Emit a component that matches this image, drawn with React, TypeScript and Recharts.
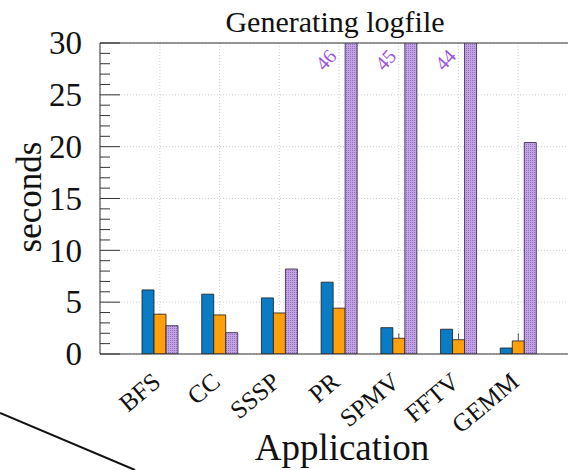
import { BarChart, Bar, XAxis, YAxis, CartesianGrid, ErrorBar, LabelList, ReferenceLine } from 'recharts';

const categories = ['BFS', 'CC', 'SSSP', 'PR', 'SPMV', 'FFTV', 'GEMM'];
const blueValues = [6.18, 5.77, 5.41, 6.93, 2.54, 2.39, 0.58];
const orangeValues = [3.84, 3.77, 3.96, 4.42, 1.52, 1.38, 1.26];
const orangeErrors = [0, 0, 0, 0, 0.48, 0.62, 0.74];
const purpleValues = [2.73, 2.06, 8.2, 46, 45, 44, 20.4];

const yTicks = Array.from({ length: 31 }, (_, i) => i);
const yMajor = [0, 5, 10, 15, 20, 25, 30];

const data = categories.map((name, i) => ({
  name,
  blue: blueValues[i],
  orange: orangeValues[i],
  orangeErr: [0, orangeErrors[i]],
  purple: purpleValues[i],
}));

const FONT = '"Liberation Serif", "Times New Roman", serif';
const INK = '#333';
const PLOT_TOP = 43;
const Y_MAX = 30;

function LeftTick(props: any) {
  const { x, y, payload } = props;
  const major = payload.value % 5 === 0;
  return (
    <g>
      <line x1={x} x2={x + (major ? 20 : 10)} y1={y} y2={y} stroke={INK} strokeWidth={1} />
      {major && (
        <text x={x - 18} y={y} dy="0.34em" textAnchor="end" fontSize={33} fontFamily={FONT} fill="#111">
          {payload.value}
        </text>
      )}
    </g>
  );
}

function RightTick(props: any) {
  const { x, y } = props;
  return <line x1={x} x2={x - 20} y1={y} y2={y} stroke={INK} strokeWidth={1} />;
}

function XTick(props: any) {
  const { x, y, payload } = props;
  const tx = x - 3;
  const ty = y + 24;
  return (
    <text
      x={tx}
      y={ty}
      dy="0.33em"
      textAnchor="end"
      fontSize={25}
      fontFamily={FONT}
      fill="#111"
      transform={`rotate(-40 ${tx} ${ty})`}
    >
      {payload.value}
    </text>
  );
}

function OverflowLabel(props: any) {
  const { x, width, value } = props;
  if (value <= Y_MAX) return null;
  const cx = x + width / 2 - 25;
  const cy = PLOT_TOP + 17;
  return (
    <text
      x={cx}
      y={cy}
      dy="0.33em"
      textAnchor="middle"
      fontSize={20}
      fontFamily={FONT}
      fill="#9b55d8"
      transform={`rotate(-48 ${cx} ${cy})`}
    >
      {value}
    </text>
  );
}

export default function App() {
  return (
    <div style={{ position: 'absolute', left: 0, top: 0, width: 568, height: 470, overflow: 'hidden', background: '#fff' }}>
      <BarChart
        width={600}
        height={470}
        data={data}
        margin={{ top: PLOT_TOP, right: 20, left: 0, bottom: 0 }}
        barSize={12}
        barGap={0}
      >
        <defs>
          <pattern id="purpleHatch" width="2" height="2" patternUnits="userSpaceOnUse">
            <rect width="2" height="2" fill="#c4a2e6" />
            <rect width="1" height="1" fill="#9272bd" />
          </pattern>
        </defs>
        <CartesianGrid
          yAxisId="l"
          stroke="#cfcfcf"
          strokeDasharray="1 2"
          horizontalValues={yMajor}
        />
        <XAxis
          dataKey="name"
          padding={{ left: 30, right: 32 }}
          interval={0}
          height={116}
          tickSize={0}
          tickMargin={0}
          tickLine={false}
          axisLine={{ stroke: INK }}
          tick={XTick}
          label={({ viewBox }: any) => (
            <text
              x={viewBox.x + viewBox.width / 2 + 2}
              y={460}
              textAnchor="middle"
              fontSize={37}
              fontFamily={FONT}
              fill="#111"
            >
              Application
            </text>
          )}
        />
        <YAxis
          yAxisId="l"
          domain={[0, Y_MAX]}
          ticks={yTicks}
          interval={0}
          allowDataOverflow
          width={100}
          tickSize={0}
          tickMargin={0}
          tickLine={false}
          axisLine={{ stroke: INK }}
          tick={LeftTick}
          label={() => (
            <text
              x={41}
              y={197}
              textAnchor="middle"
              fontSize={35}
              fontFamily={FONT}
              fill="#111"
              transform="rotate(-90 41 197)"
            >
              seconds
            </text>
          )}
        />
        <YAxis
          yAxisId="r"
          orientation="right"
          domain={[0, Y_MAX]}
          ticks={yMajor}
          interval={0}
          allowDataOverflow
          width={0}
          tickSize={0}
          tickMargin={0}
          tickLine={false}
          axisLine={{ stroke: INK }}
          tick={RightTick}
        />
        <ReferenceLine yAxisId="l" y={Y_MAX} stroke={INK} strokeWidth={1} />
        <Bar yAxisId="l" dataKey="blue" fill="#0a7cc6" stroke="#1a1a1a" strokeWidth={0.8} isAnimationActive={false} />
        <Bar yAxisId="l" dataKey="orange" fill="#ff9f0a" stroke="#1a1a1a" strokeWidth={0.8} isAnimationActive={false}>
          <ErrorBar dataKey="orangeErr" width={0} stroke="#555" strokeWidth={1} isAnimationActive={false} />
        </Bar>
        <Bar yAxisId="l" dataKey="purple" fill="url(#purpleHatch)" stroke="#2a2040" strokeWidth={0.8} isAnimationActive={false}>
          <LabelList dataKey="purple" content={OverflowLabel} />
        </Bar>
      </BarChart>
      <svg width={568} height={470} style={{ position: 'absolute', left: 0, top: 0, pointerEvents: 'none' }}>
        <text x={335} y={32} textAnchor="middle" fontSize={30} fontFamily={FONT} fill="#111">
          Generating logfile
        </text>
        <line x1={0} y1={413} x2={135} y2={470} stroke="#111" strokeWidth={2} />
      </svg>
    </div>
  );
}
